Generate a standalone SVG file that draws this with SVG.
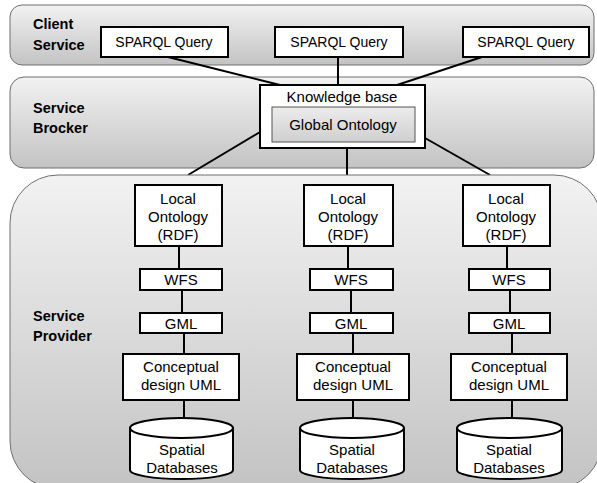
<svg xmlns="http://www.w3.org/2000/svg" width="597" height="483" viewBox="0 0 597 483">
<defs>
<linearGradient id="pg" x1="0" y1="0" x2="0" y2="1">
<stop offset="0" stop-color="#f2f2f2"/>
<stop offset="1" stop-color="#c3c3c3"/>
</linearGradient>
<linearGradient id="ig" x1="0" y1="0" x2="0" y2="1">
<stop offset="0" stop-color="#ececec"/>
<stop offset="1" stop-color="#cfcfcf"/>
</linearGradient>
</defs>
<style>
.panel{fill:url(#pg);stroke:#6f6f6f;stroke-width:1}
.box{fill:#fff;stroke:#000;stroke-width:2}
.inner{fill:url(#ig);stroke:#555;stroke-width:1}
.ln{stroke:#000;stroke-width:2;fill:none}
.t{font-family:"Liberation Sans",Arial,sans-serif;font-size:15px;fill:#000;text-anchor:middle}
.q{font-size:14px}
.lbl{font-family:"Liberation Sans",Arial,sans-serif;font-size:14.5px;font-weight:bold;fill:#000}
</style>
<g id="panel-client">
<rect class="panel" x="10" y="5" width="584" height="60" rx="12"/>
<text class="lbl" x="33" y="29">Client</text>
<text class="lbl" x="33" y="50">Service</text>
</g>
<g id="panel-broker">
<rect class="panel" x="10" y="77" width="584" height="91" rx="14"/>
<text class="lbl" x="33" y="113">Service</text>
<text class="lbl" x="33" y="133">Brocker</text>
</g>
<g id="connectors-upper">
<line class="ln" x1="168" y1="57" x2="280" y2="85"/>
<line class="ln" x1="338" y1="57" x2="338" y2="85"/>
<line class="ln" x1="482" y1="57" x2="397" y2="85"/>
<line class="ln" x1="260" y1="132" x2="188" y2="175"/>
<line class="ln" x1="347" y1="148" x2="347" y2="175"/>
<line class="ln" x1="425" y1="138" x2="490" y2="175"/>
</g>
<g id="panel-provider">
<rect class="panel" x="10" y="175" width="592" height="314" rx="48"/>
<text class="lbl" x="33" y="321">Service</text>
<text class="lbl" x="33" y="341">Provider</text>
</g>
<g id="sparql1"><rect class="box" x="101" y="27" width="127" height="30"/><text class="t q" x="164" y="47">SPARQL Query</text></g>
<g id="sparql2"><rect class="box" x="275" y="27" width="128" height="30"/><text class="t q" x="339" y="47">SPARQL Query</text></g>
<g id="sparql3"><rect class="box" x="463" y="27" width="126" height="30"/><text class="t q" x="526" y="47">SPARQL Query</text></g>
<g id="knowledge-base">
<rect class="box" x="260" y="85" width="165" height="63"/>
<text class="t" x="342" y="102">Knowledge base</text>
<rect class="inner" x="272" y="107" width="143" height="35"/>
<text class="t" x="343" y="130">Global Ontology</text>
</g>
<g id="connectors-lower">
<line class="ln" x1="179" y1="246" x2="179" y2="269"/>
<line class="ln" x1="182" y1="290" x2="182" y2="313"/>
<line class="ln" x1="184" y1="333" x2="184" y2="354"/>
<line class="ln" x1="184" y1="400" x2="184" y2="418"/>
<line class="ln" x1="348" y1="246" x2="348" y2="269"/>
<line class="ln" x1="351" y1="290" x2="351" y2="313"/>
<line class="ln" x1="353" y1="333" x2="353" y2="354"/>
<line class="ln" x1="353" y1="400" x2="353" y2="418"/>
<line class="ln" x1="507" y1="246" x2="507" y2="269"/>
<line class="ln" x1="510" y1="290" x2="510" y2="313"/>
<line class="ln" x1="512" y1="333" x2="512" y2="354"/>
<line class="ln" x1="512" y1="400" x2="512" y2="418"/>
</g>
<g id="lo1"><rect class="box" x="135" y="185" width="87" height="61"/><text class="t" x="178" y="204">Local</text><text class="t" x="178" y="222">Ontology</text><text class="t" x="178" y="240">(RDF)</text></g>
<g id="lo2"><rect class="box" x="304" y="185" width="89" height="61"/><text class="t" x="348" y="204">Local</text><text class="t" x="348" y="222">Ontology</text><text class="t" x="348" y="240">(RDF)</text></g>
<g id="lo3"><rect class="box" x="463" y="185" width="87" height="61"/><text class="t" x="506" y="204">Local</text><text class="t" x="506" y="222">Ontology</text><text class="t" x="506" y="240">(RDF)</text></g>
<g id="wfs1"><rect class="box" x="140" y="269" width="82" height="21"/><text class="t" x="181" y="285">WFS</text></g>
<g id="wfs2"><rect class="box" x="310" y="269" width="83" height="21"/><text class="t" x="351" y="285">WFS</text></g>
<g id="wfs3"><rect class="box" x="469" y="269" width="81" height="21"/><text class="t" x="509" y="285">WFS</text></g>
<g id="gml1"><rect class="box" x="140" y="313" width="82" height="20"/><text class="t" x="181" y="329">GML</text></g>
<g id="gml2"><rect class="box" x="310" y="313" width="83" height="20"/><text class="t" x="351" y="329">GML</text></g>
<g id="gml3"><rect class="box" x="469" y="313" width="81" height="20"/><text class="t" x="509" y="329">GML</text></g>
<g id="uml1"><rect class="box" x="123" y="354" width="116" height="46"/><text class="t" x="181" y="372">Conceptual</text><text class="t" x="181" y="390">design UML</text></g>
<g id="uml2"><rect class="box" x="297" y="354" width="112" height="46"/><text class="t" x="353" y="372">Conceptual</text><text class="t" x="353" y="390">design UML</text></g>
<g id="uml3"><rect class="box" x="451" y="354" width="116" height="46"/><text class="t" x="509" y="372">Conceptual</text><text class="t" x="509" y="390">design UML</text></g>
<g id="db1">
<path class="box" d="M130,428 A51.5,10 0 0 1 233,428 V470 A51.5,9 0 0 1 130,470 Z"/>
<path class="ln" d="M130,428 A51.5,10 0 0 0 233,428"/>
<text class="t" x="182" y="455">Spatial</text><text class="t" x="182" y="473">Databases</text>
</g>
<g id="db2">
<path class="box" d="M300,428 A52,10 0 0 1 404,428 V470 A52,9 0 0 1 300,470 Z"/>
<path class="ln" d="M300,428 A52,10 0 0 0 404,428"/>
<text class="t" x="352" y="455">Spatial</text><text class="t" x="352" y="473">Databases</text>
</g>
<g id="db3">
<path class="box" d="M457,428 A52.5,10 0 0 1 562,428 V470 A52.5,9 0 0 1 457,470 Z"/>
<path class="ln" d="M457,428 A52.5,10 0 0 0 562,428"/>
<text class="t" x="509" y="455">Spatial</text><text class="t" x="509" y="473">Databases</text>
</g>
</svg>
